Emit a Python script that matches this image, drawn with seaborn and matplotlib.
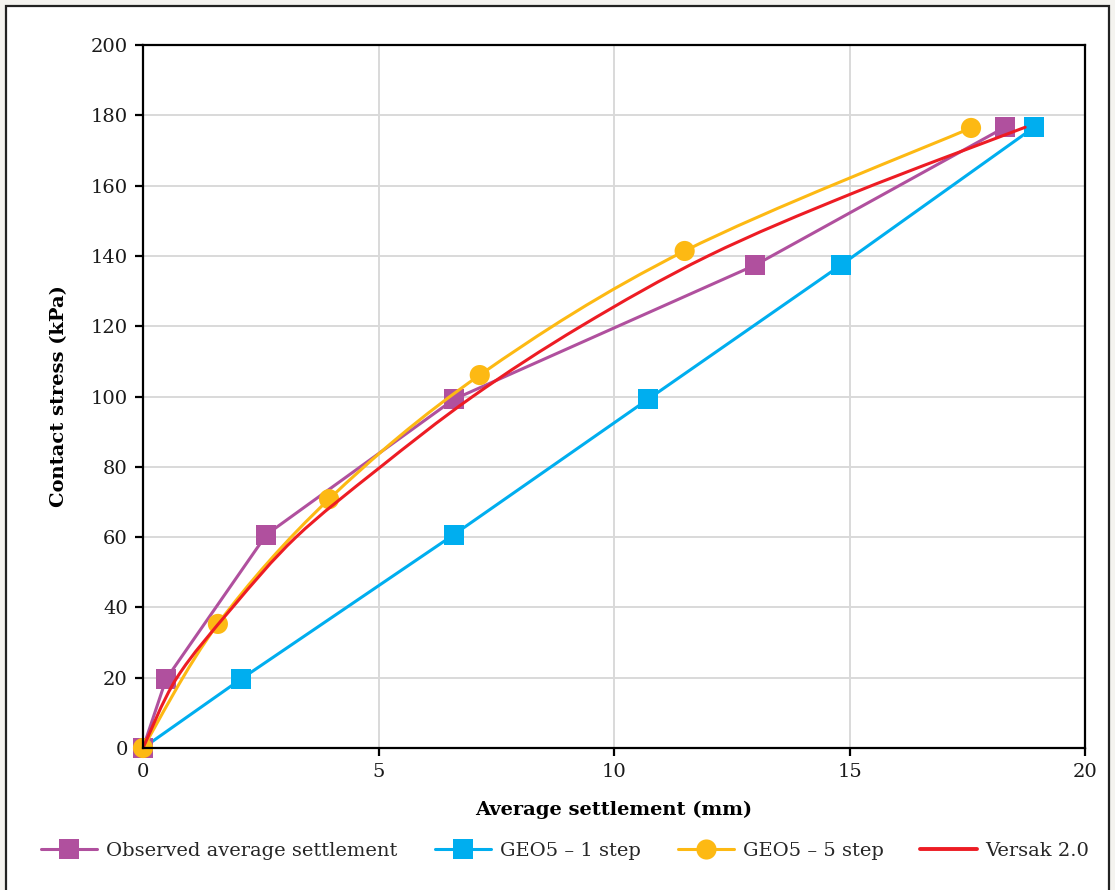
import numpy as np
import matplotlib
matplotlib.use("Agg")
import matplotlib.pyplot as plt
from matplotlib.path import Path
from matplotlib.patches import PathPatch, Rectangle
from matplotlib.lines import Line2D
import seaborn as sns

# Load-settlement data (settlement in mm, contact stress in kPa)
obs_settlement = [0.0, 0.49, 2.62, 6.60, 13.00, 18.30]
obs_stress = [0.0, 19.6, 60.7, 99.2, 137.4, 176.6]

geo1_settlement = [0.0, 2.08, 6.60, 10.72, 14.82, 18.92]
geo1_stress = [0.0, 19.6, 60.7, 99.2, 137.4, 176.6]

geo5_settlement = [0.0, 1.59, 3.95, 7.15, 11.50, 17.58]
geo5_stress = [0.0, 35.3, 70.8, 106.1, 141.4, 176.4]

versak_settlement = [0.0, 0.72, 1.90, 3.25, 5.00, 7.00, 9.30, 12.00, 15.10, 18.73]
versak_stress = [0.0, 20.0, 40.0, 60.0, 79.5, 100.0, 120.0, 140.0, 158.0, 176.6]

series_names = ["Observed average settlement", "GEO5 \u2013 1 step",
                "GEO5 \u2013 5 step", "Versak 2.0"]
colors = ["#b0509e", "#00aeef", "#fdb913", "#ed1c24"]

x_ticks = [0, 5, 10, 15, 20]
y_ticks = list(range(0, 201, 20))


def smooth_path(xs, ys):
    """Cubic Bezier path through the points (Catmull-Rom style smoothing)."""
    pts = np.column_stack([xs, ys]).astype(float)
    n = len(pts)
    verts = [pts[0]]
    codes = [Path.MOVETO]
    for i in range(n - 1):
        p0 = pts[i - 1] if i > 0 else pts[i]
        p1 = pts[i]
        p2 = pts[i + 1]
        p3 = pts[i + 2] if i + 2 < n else pts[i + 1]
        c1 = p1 + (p2 - p0) / 6.0
        c2 = p2 - (p3 - p1) / 6.0
        verts += [c1, c2, p2]
        codes += [Path.CURVE4] * 3
    return Path(verts, codes)


sns.set_theme(style="white")
plt.rcParams["font.family"] = ["DejaVu Serif"]

fig = plt.figure(figsize=(11.15, 8.9), dpi=100)
fig.patch.set_facecolor("#f4f3ef")
fig.patches.append(Rectangle((6 / 1115, -0.02), 1103 / 1115, 1.02 - 6 / 890,
                             transform=fig.transFigure, facecolor="white",
                             edgecolor="#222222", linewidth=1.6, zorder=-10))

ax = fig.add_axes([143 / 1115, 1 - 748 / 890, 942 / 1115, 703 / 890])
ax.set_facecolor("white")

lw = 2.2
# GEO5 - 1 step
sns.lineplot(x=geo1_settlement, y=geo1_stress, ax=ax, color=colors[1],
             linewidth=lw, marker="s", markersize=15, markeredgewidth=0,
             sort=False, estimator=None, zorder=3)
# Observed
sns.lineplot(x=obs_settlement, y=obs_stress, ax=ax, color=colors[0],
             linewidth=lw, marker="s", markersize=15, markeredgewidth=0,
             sort=False, estimator=None, zorder=4)
# GEO5 - 5 step (smoothed line)
ax.add_patch(PathPatch(smooth_path(geo5_settlement, geo5_stress), fill=False,
                       edgecolor=colors[2], linewidth=lw, zorder=5,
                       capstyle="round", joinstyle="round"))
sns.scatterplot(x=geo5_settlement, y=geo5_stress, ax=ax, color=colors[2],
                marker="o", s=14.5 ** 2, edgecolor="none", zorder=6)
# Versak 2.0 (smooth curve)
ax.add_patch(PathPatch(smooth_path(versak_settlement, versak_stress), fill=False,
                       edgecolor=colors[3], linewidth=lw, zorder=7,
                       capstyle="round", joinstyle="round"))

# markers at the origin sit over the axes frame
for artist in ax.lines + ax.collections:
    artist.set_clip_on(False)

ax.set_xlim(0, 20)
ax.set_ylim(0, 200)
ax.set_xticks(x_ticks)
ax.set_yticks(y_ticks)
ax.grid(True, color="#d9d9d9", linewidth=1.4)
ax.set_axisbelow(True)
for side in ["left", "right", "top", "bottom"]:
    ax.spines[side].set_visible(True)
    ax.spines[side].set_color("black")
    ax.spines[side].set_linewidth(1.6)
    ax.spines[side].set_zorder(10)
ax.tick_params(axis="both", which="major", direction="out", length=6,
               width=1.6, color="black", labelsize=14, labelcolor="#1a1a1a",
               left=True, bottom=True, pad=5)

ax.set_xlabel("Average settlement (mm)", fontsize=14, fontweight="bold",
              labelpad=14, color="black")
ax.set_ylabel("Contact stress (kPa)", fontsize=14, fontweight="bold",
              labelpad=16, color="black")

handles = [
    Line2D([], [], color=colors[0], linewidth=lw, marker="s", markersize=15,
           markeredgewidth=0),
    Line2D([], [], color=colors[1], linewidth=lw, marker="s", markersize=15,
           markeredgewidth=0),
    Line2D([], [], color=colors[2], linewidth=lw, marker="o", markersize=14.5,
           markeredgewidth=0),
    Line2D([], [], color=colors[3], linewidth=lw + 0.6),
]
fig.legend(handles, series_names, loc="center", ncol=4,
           bbox_to_anchor=(0.507, 1 - 851 / 890), frameon=False,
           fontsize=14, handlelength=2.9, handletextpad=0.45,
           columnspacing=1.9)

fig.savefig("out.png", dpi=100, facecolor=fig.get_facecolor())
